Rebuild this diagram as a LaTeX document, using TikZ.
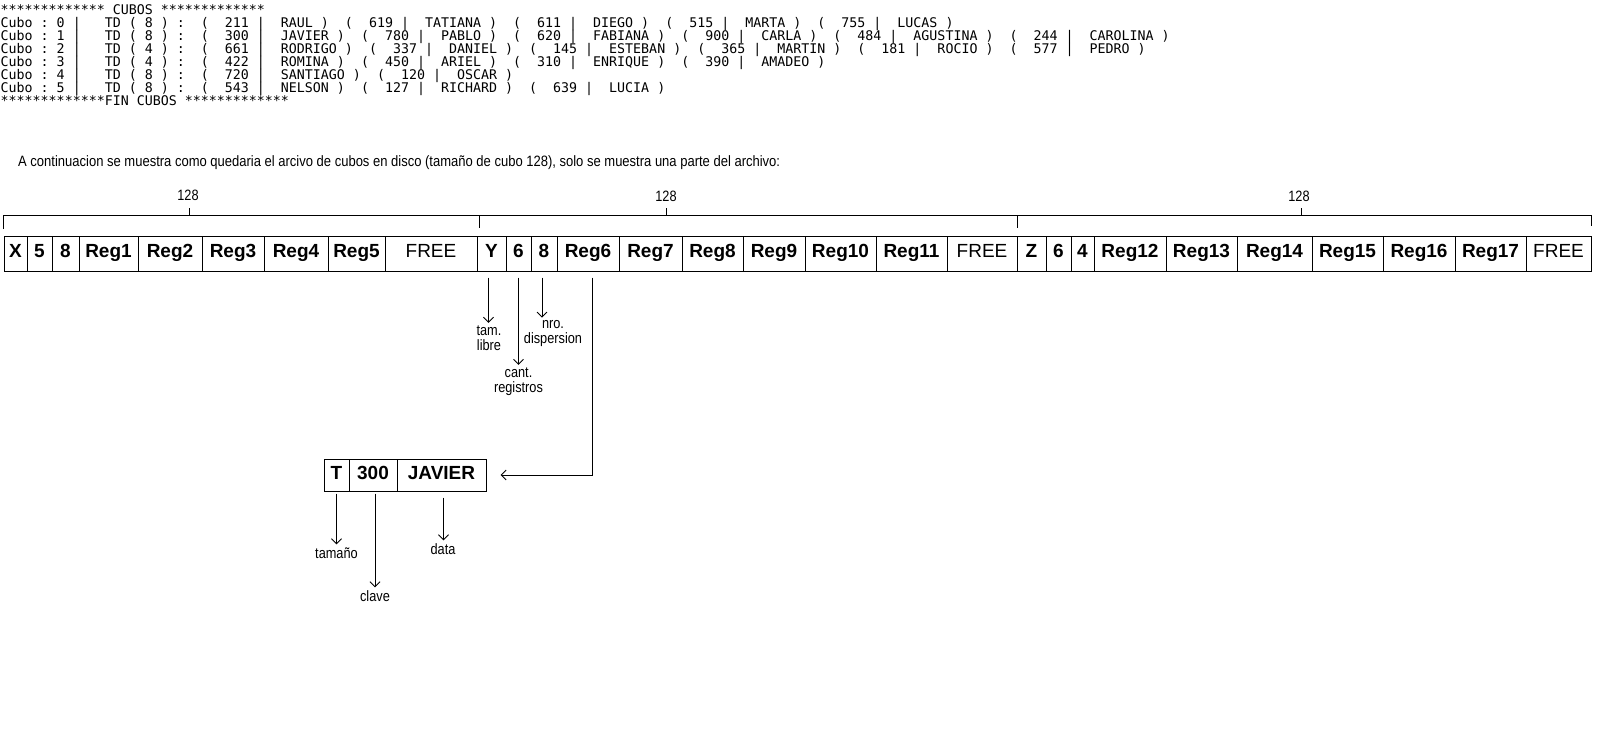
\documentclass[tikz,border=0pt]{standalone}
\usepackage{fontspec}
\usepackage{graphicx}
\setmainfont{Liberation Sans}
\newfontfamily\consola{DejaVu Sans Mono}
\usetikzlibrary{arrows.meta}
\newcommand{\narrow}[1]{\scalebox{0.85}[1]{#1}}
\newcommand{\rec}[2]{(~~#1~|~~#2~)~~}
\newcommand{\cubo}[2]{Cubo~:~#1~|~~~TD~(~#2~)~:~~}

\begin{document}
\begin{tikzpicture}[x=1pt, y=-1pt,
    cell/.style={draw, line width=1pt, minimum height=35pt, inner sep=0pt, text height=14pt, text depth=6pt, font=\fontsize{19}{21}\selectfont\bfseries},
    freecell/.style={cell, font=\fontsize{19}{21}\selectfont},
    recbox/.style={cell, minimum height=32pt},
    note/.style={font=\fontsize{15}{15}\selectfont, align=center, inner sep=3pt},
    console/.style={anchor=base west, inner sep=0pt, font=\consola\fontsize{13.3}{13}\selectfont},
    arr/.style={-{Straight Barb[length=5pt,width=10pt]}, line width=0.9pt}]
    \path[fill=white, use as bounding box] (0,0) rectangle (1604,733);

    % salida de consola
    \node[console] (hdr) at (0.5,15) {*************~CUBOS~*************};
    \node[console] (cubo0) at (0.5,27.9) {\cubo{0}{8}\rec{211}{RAUL}\rec{619}{TATIANA}\rec{611}{DIEGO}\rec{515}{MARTA}\rec{755}{LUCAS}};
    \node[console] (cubo1) at (0.5,40.8) {\cubo{1}{8}\rec{300}{JAVIER}\rec{780}{PABLO}\rec{620}{FABIANA}\rec{900}{CARLA}\rec{484}{AGUSTINA}\rec{244}{CAROLINA}};
    \node[console] (cubo2) at (0.5,53.7) {\cubo{2}{4}\rec{661}{RODRIGO}\rec{337}{DANIEL}\rec{145}{ESTEBAN}\rec{365}{MARTIN}\rec{181}{ROCIO}\rec{577}{PEDRO}};
    \node[console] (cubo3) at (0.5,66.6) {\cubo{3}{4}\rec{422}{ROMINA}\rec{450}{ARIEL}\rec{310}{ENRIQUE}\rec{390}{AMADEO}};
    \node[console] (cubo4) at (0.5,79.5) {\cubo{4}{8}\rec{720}{SANTIAGO}\rec{120}{OSCAR}};
    \node[console] (cubo5) at (0.5,92.4) {\cubo{5}{8}\rec{543}{NELSON}\rec{127}{RICHARD}\rec{639}{LUCIA}};
    \node[console] (fin) at (0.5,105.3) {*************FIN~CUBOS~*************};

    \node[anchor=west, inner sep=0pt] (intro) at (18,162.5) {\resizebox{762pt}{\height}{\fontsize{15}{17}\selectfont A continuacion se muestra como quedaria el arcivo de cubos en disco (tamaño de cubo 128), solo se muestra una parte del archivo:}};

    % tamanio de cada cubo
    \draw[line width=0.9pt] (3,229) -- (3,215) -- (1591,215) -- (1591,226);
    \draw[line width=0.9pt] (479,215) -- (479,228);
    \draw[line width=0.9pt] (1017,215) -- (1017,228);
    \draw[line width=0.9pt] (189,208) -- (189,215);
    \draw[line width=0.9pt] (666,208) -- (666,215);
    \draw[line width=0.9pt] (1301,208) -- (1301,215);
    \node[note] (len1) at (188,195) {\narrow{128}};
    \node[note] (len2) at (666,196) {\narrow{128}};
    \node[note] (len3) at (1299,196) {\narrow{128}};

    % cubos en disco
    \node[cell, minimum width=23pt] (cx) at (15.5,253.5) {X};
    \node[cell, minimum width=25pt] (c5a) at (39.5,253.5) {5};
    \node[cell, minimum width=27pt] (c8a) at (65.5,253.5) {8};
    \node[cell, minimum width=59pt] (r1) at (108.5,253.5) {Reg1};
    \node[cell, minimum width=64pt] (r2) at (170,253.5) {Reg2};
    \node[cell, minimum width=62pt] (r3) at (233,253.5) {Reg3};
    \node[cell, minimum width=64pt] (r4) at (296,253.5) {Reg4};
    \node[cell, minimum width=57pt] (r5) at (356.5,253.5) {Reg5};
    \node[freecell, minimum width=92pt] (free1) at (431,253.5) {FREE};
    \node[cell, minimum width=29pt] (cy) at (491.5,253.5) {Y};
    \node[cell, minimum width=25pt] (c6b) at (518.5,253.5) {6};
    \node[cell, minimum width=26pt] (c8b) at (544,253.5) {8};
    \node[cell, minimum width=62pt] (r6) at (588,253.5) {Reg6};
    \node[cell, minimum width=63pt] (r7) at (650.5,253.5) {Reg7};
    \node[cell, minimum width=61pt] (r8) at (712.5,253.5) {Reg8};
    \node[cell, minimum width=62pt] (r9) at (774,253.5) {Reg9};
    \node[cell, minimum width=71pt] (r10) at (840.5,253.5) {Reg10};
    \node[cell, minimum width=71pt] (r11) at (911.5,253.5) {Reg11};
    \node[freecell, minimum width=70pt] (free2) at (982,253.5) {FREE};
    \node[cell, minimum width=29pt] (cz) at (1031.5,253.5) {Z};
    \node[cell, minimum width=25pt] (c6c) at (1058.5,253.5) {6};
    \node[cell, minimum width=23pt] (c4c) at (1082.5,253.5) {4};
    \node[cell, minimum width=72pt] (r12) at (1130,253.5) {Reg12};
    \node[cell, minimum width=71pt] (r13) at (1201.5,253.5) {Reg13};
    \node[cell, minimum width=75pt] (r14) at (1274.5,253.5) {Reg14};
    \node[cell, minimum width=71pt] (r15) at (1347.5,253.5) {Reg15};
    \node[cell, minimum width=72pt] (r16) at (1419,253.5) {Reg16};
    \node[cell, minimum width=71pt] (r17) at (1490.5,253.5) {Reg17};
    \node[freecell, minimum width=65pt] (free3) at (1558.5,253.5) {FREE};

    % cabecera del cubo
    \node[note] (tamlibre) at (489,338.5) {\narrow{tam.}\\\narrow{libre}};
    \node[note] (cantreg) at (518.5,382) {\narrow{cant.}\\\narrow{registros}};
    \node[note] (nrodisp) at (553,334) {\narrow{nro.}\\\narrow{dispersion}};
    \draw[arr] ([xshift=-3pt,yshift=-6pt]cy.south) -- ([xshift=-3pt]cy.south |- tamlibre.north);
    \draw[arr] ([yshift=-6pt]c6b.south) -- (c6b.south |- cantreg.north);
    \draw[arr] ([xshift=-2pt,yshift=-6pt]c8b.south) -- ([xshift=-2pt]c8b.south |- nrodisp.north);

    % registro
    \node[recbox, minimum width=25pt] (rt) at (336.5,475) {T};
    \node[recbox, minimum width=48pt] (rkey) at (373,475) {300};
    \node[recbox, minimum width=89pt] (rdata) at (441.5,475) {JAVIER};
    \draw[arr] ([xshift=4pt,yshift=-6pt]r6.south) |- ([xshift=14pt]rdata.east);

    \node[note] (tamano) at (336.5,553) {\narrow{tamaño}};
    \node[note] (clave) at (375,596) {\narrow{clave}};
    \node[note] (data) at (443,549) {\narrow{data}};
    \draw[arr] ([yshift=-2pt]rt.south) -- (rt.south |- tamano.north);
    \draw[arr] ([xshift=2pt,yshift=-2pt]rkey.south) -- ([xshift=2pt]rkey.south |- clave.north);
    \draw[arr] ([xshift=2pt,yshift=-6pt]rdata.south) -- ([xshift=2pt]rdata.south |- data.north);
\end{tikzpicture}
\end{document}
